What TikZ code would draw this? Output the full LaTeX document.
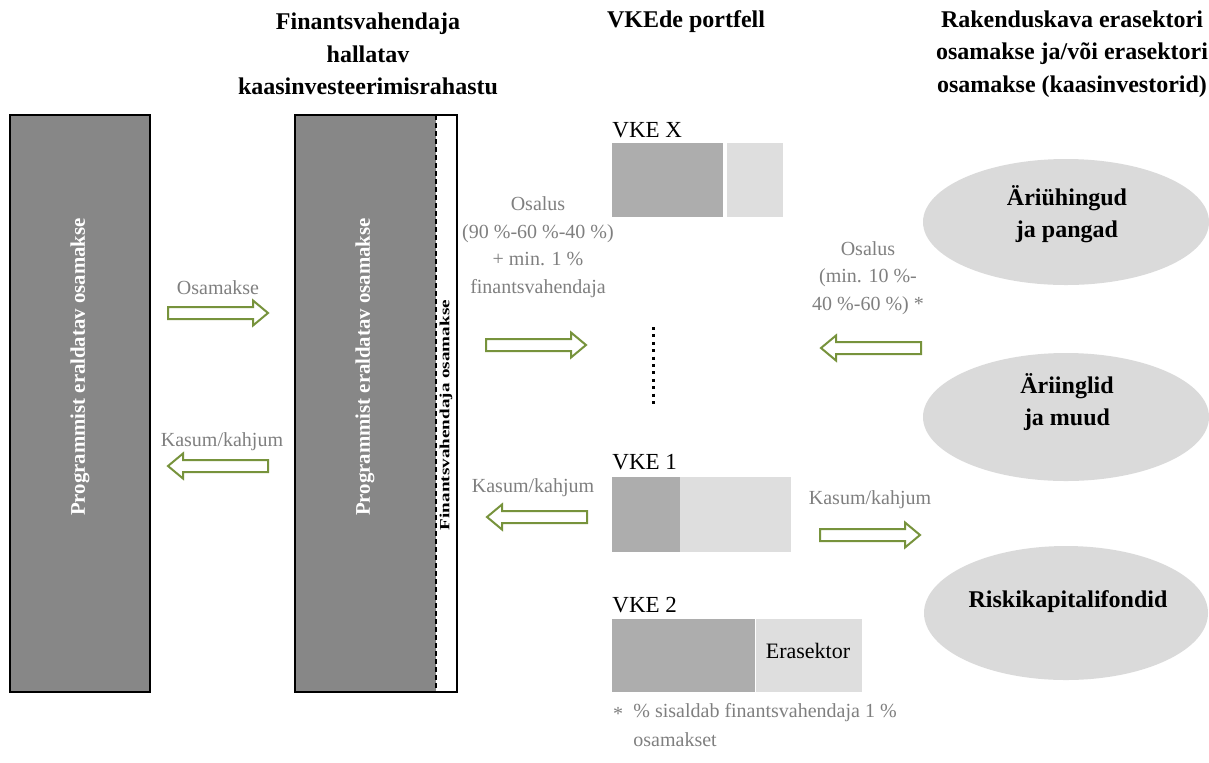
\documentclass[tikz,border=0pt]{standalone}
\usepackage{fontspec}
\setmainfont{Liberation Serif}
\usetikzlibrary{shapes.geometric}

\definecolor{arrowgreen}{HTML}{77933C}
\definecolor{fundgrey}{HTML}{878787}
\definecolor{vkedark}{HTML}{ADADAD}
\definecolor{vkelight}{HTML}{DEDEDE}
\definecolor{ovalgrey}{HTML}{DADADA}
\definecolor{labelgrey}{HTML}{7F7F7F}

\tikzset{
  heading/.style={font=\fontsize{12}{16.25}\selectfont\bfseries, align=center},
  flowlabel/.style={text=labelgrey, font=\fontsize{10}{13.8}\selectfont, align=center},
  fundtext/.style={text=white, rotate=90, font=\fontsize{10.4}{13}\selectfont\bfseries},
  vkelabel/.style={anchor=west, inner sep=0pt, font=\fontsize{11.5}{13}\selectfont},
  oval/.style={ellipse, fill=ovalgrey, inner sep=0pt},
  ovaltext/.style={font=\fontsize{12}{16}\selectfont\bfseries, align=center},
  dotline/.style={line width=1.5pt, dash pattern=on 1.5pt off 2.2pt},
  flowarrow/.pic={
    \draw [arrowgreen, line width=1pt, fill=white]
      (-50,-6) -- (35,-6) -- (35,-12.5) -- (50,0) -- (35,12.5) -- (35,6) -- (-50,6) -- cycle;
  },
}

\begin{document}
\begin{tikzpicture}[x=0.5pt, y=-0.5pt]
    \useasboundingbox (0,0) rectangle (1209,762);

    % Headings
    \node [heading] (fundhead) at (368,54) {Finantsvahendaja\\hallatav\\kaasinvesteerimisrahastu};
    \node [heading] (vkehead) at (686,22) {VKEde portfell};
    \node [heading] (coinvhead) at (1072,54) {Rakenduskava erasektori\\osamakse ja/või erasektori\\osamakse (kaasinvestorid)};

    % Programme contribution
    \draw [line width=1pt, fill=fundgrey] (10,115) rectangle (150,692);
    \node [fundtext] (progtext) at (80,367) {Programmist eraldatav osamakse};

    % Co-investment fund
    \fill [fundgrey] (295,115) rectangle (436,692);
    \draw [line width=1pt] (295,115) rectangle (457,692);
    \draw [line width=1.2pt, dash pattern=on 2.5pt off 1.5pt] (436,115) -- (436,692);
    \node [fundtext] (fundtext) at (365,367) {Programmist eraldatav osamakse};
    \node [rotate=90, inner sep=0pt] (fitext) at (446,415)
        {\resizebox{115pt}{\height}{\fontsize{7}{8}\selectfont\bfseries Finantsvahendaja osamakse}};

    % Flows between programme and fund
    \node [flowlabel] (osamakse) at (218,288) {Osamakse};
    \pic at (218,313) {flowarrow};
    \node [flowlabel] (kasum1) at (222,442) {Kasum/kahjum};
    \pic [rotate=180] at (218,466) {flowarrow};

    % Flows between fund and SMEs
    \node [flowlabel] (osalus1) at (538,247) {Osalus\\(90~\%-60~\%-40~\%)\\+ min. 1~\%\\finantsvahendaja};
    \pic at (536,345) {flowarrow};
    \node [flowlabel] (kasum2) at (533,488) {Kasum/kahjum};
    \pic [rotate=180] at (537,517) {flowarrow};

    % SME portfolio
    \node [vkelabel] (vkex) at (612,130) {VKE X};
    \fill [vkedark] (612,143) rectangle (723,217);
    \fill [vkelight] (727,143) rectangle (783,217);
    \draw [dotline] (653,327) -- (653,408);
    \node [vkelabel] (vke1) at (612,462) {VKE 1};
    \fill [vkedark] (612,477) rectangle (680,552);
    \fill [vkelight] (680,477) rectangle (791,552);
    \node [vkelabel] (vke2) at (612,605) {VKE 2};
    \fill [vkedark] (612,619) rectangle (755,692);
    \fill [vkelight] (756,619) rectangle (862,692);
    \node [font=\fontsize{11}{13}\selectfont] (erasektor) at (808,651) {Erasektor};

    % Flows between SMEs and co-investors
    \node [flowlabel] (osalus2) at (868,278) {Osalus\\(min. 10~\%-\\40~\%-60~\%) *};
    \pic [rotate=180] at (871,348) {flowarrow};
    \node [flowlabel] (kasum3) at (870,500) {Kasum/kahjum};
    \pic at (870,535) {flowarrow};

    % Co-investors
    \node [oval, minimum width=143pt, minimum height=63pt] (banks) at (1066,222) {};
    \node [ovaltext] (bankstext) at (1067,214) {Äriühingud\\ja pangad};
    \node [oval, minimum width=143pt, minimum height=64pt] (angels) at (1066,417) {};
    \node [ovaltext] (angelstext) at (1067,402) {Äriinglid\\ja muud};
    \node [oval, minimum width=142pt, minimum height=67pt] (vcfunds) at (1066,613) {};
    \node [ovaltext] (vcfundstext) at (1068,602) {Riskikapitalifondid};

    % Footnote
    \node [flowlabel] (fnstar) at (618,714) {*};
    \node [flowlabel, anchor=west, inner sep=0pt] (fnote) at (633,713) {\%~sisaldab finantsvahendaja 1~\%};
    \node [flowlabel, anchor=west, inner sep=0pt] (fnote2) at (633,740) {osamakset};

\end{tikzpicture}
\end{document}
